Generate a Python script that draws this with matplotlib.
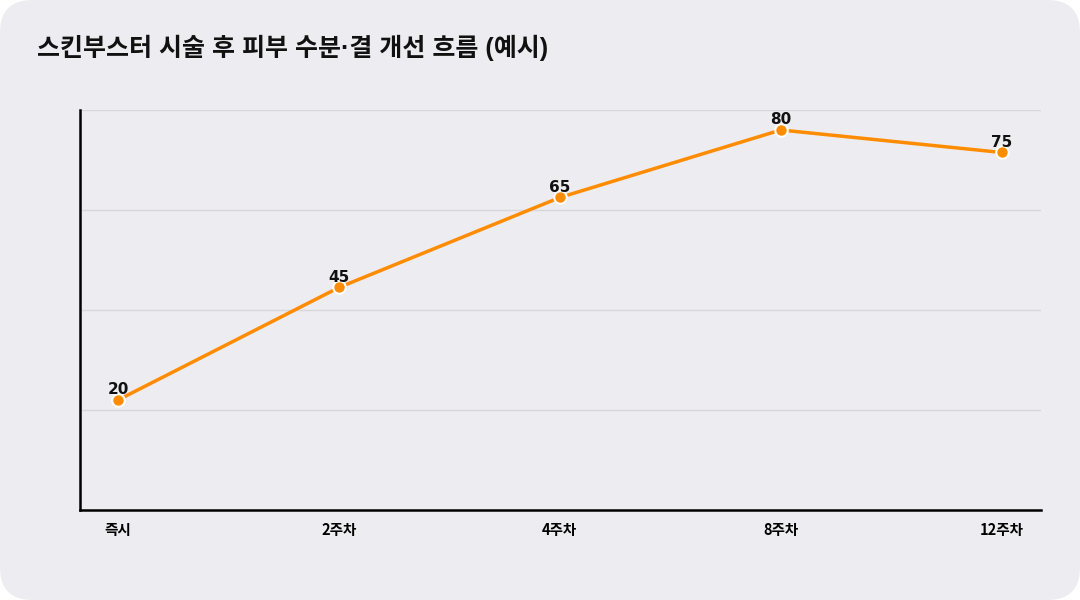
import numpy as np
import matplotlib.pyplot as plt
from matplotlib.patches import FancyBboxPatch

plt.rcParams['font.family'] = ['Noto Sans CJK KR', 'DejaVu Sans']

# data
periods = ['즉시', '2주차', '4주차', '8주차', '12주차']
scores = [20, 45, 65, 80, 75]
title = '스킨부스터 시술 후 피부 수분·결 개선 흐름 (예시)'

bg = '#EDECF1'
orange = '#FF8C00'

fig = plt.figure(figsize=(10.8, 6), dpi=100)
fig.patch.set_facecolor('white')
card = FancyBboxPatch((0.0, 0.0), 1.0, 1.0, boxstyle='round,pad=0,rounding_size=0.03',
                      transform=fig.transFigure, facecolor=bg, edgecolor='none',
                      mutation_aspect=1.8, zorder=-10)
fig.patches.append(card)

ax = fig.add_axes([80 / 1080, 1 - 510 / 600, 961 / 1080, 400 / 600])
ax.set_facecolor(bg)

x = np.arange(len(periods))
ax.plot(x, scores, color=orange, linewidth=2.5, marker='o', markersize=9,
        markerfacecolor=orange, markeredgecolor='white', markeredgewidth=1.5, zorder=3)
for xi, v in zip(x, scores):
    ax.annotate(str(v), (xi, v), xytext=(0, 2), textcoords='offset points',
                ha='center', va='bottom', fontsize=11, fontweight='bold', color='#111111',
                family=['DejaVu Sans'])

ymin, ymax = -4.44, 84.44
ax.set_ylim(ymin, ymax)
ax.set_xlim(-0.172, 4.178)
ax.set_yticks(np.linspace(ymin, ymax, 5))
ax.set_yticklabels([])
ax.tick_params(axis='y', length=0)
ax.grid(axis='y', color='#D8D8DC', linewidth=1)
ax.set_axisbelow(True)

ax.set_xticks(x)
ax.set_xticklabels(periods, fontsize=10.5, fontweight='bold')
ax.tick_params(axis='x', length=0, pad=9)

for s in ['top', 'right']:
    ax.spines[s].set_visible(False)
for s in ['left', 'bottom']:
    ax.spines[s].set_color('black')
    ax.spines[s].set_linewidth(1.8)

fig.text(37 / 1080, 1 - 48 / 600, title, fontsize=18, fontweight='bold',
         ha='left', va='center', color='#111111',
         family=['Liberation Sans', 'Noto Sans CJK KR'])

fig.savefig('out.png', dpi=100, facecolor=fig.get_facecolor())
